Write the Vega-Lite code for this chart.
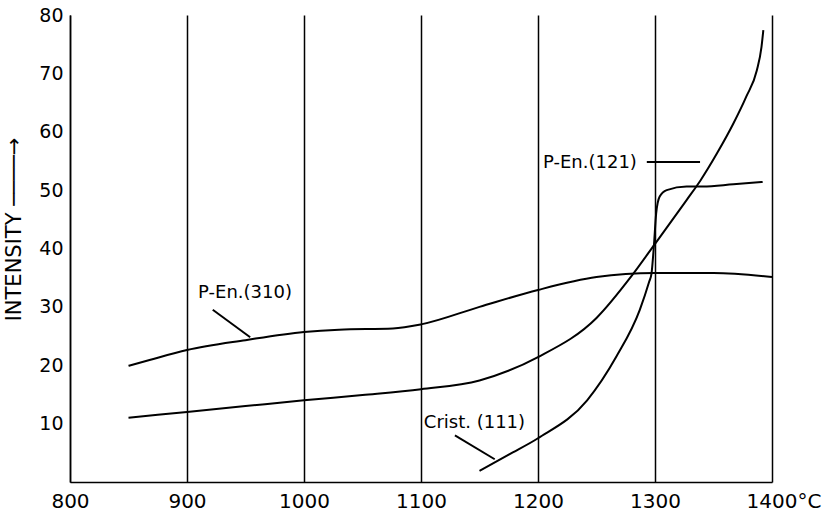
{
  "$schema": "https://vega.github.io/schema/vega-lite/v6.json",
  "width": 702,
  "height": 467,
  "autosize": {"type": "none"},
  "padding": {"left": 70, "top": 15, "right": 60, "bottom": 34},
  "background": "white",
  "config": {
    "view": {"stroke": null},
    "font": "DejaVu Sans"
  },
  "datasets": {
    "curves": [
      {"series": "P-En.(310)", "t": 850, "i": 19.9},
      {"series": "P-En.(310)", "t": 868, "i": 20.9},
      {"series": "P-En.(310)", "t": 900, "i": 22.6},
      {"series": "P-En.(310)", "t": 950, "i": 24.3},
      {"series": "P-En.(310)", "t": 1000, "i": 25.7},
      {"series": "P-En.(310)", "t": 1030, "i": 26.1},
      {"series": "P-En.(310)", "t": 1076, "i": 26.3},
      {"series": "P-En.(310)", "t": 1100, "i": 27.0},
      {"series": "P-En.(310)", "t": 1150, "i": 30.0},
      {"series": "P-En.(310)", "t": 1200, "i": 32.9},
      {"series": "P-En.(310)", "t": 1250, "i": 35.1},
      {"series": "P-En.(310)", "t": 1300, "i": 35.8},
      {"series": "P-En.(310)", "t": 1350, "i": 35.8},
      {"series": "P-En.(310)", "t": 1400, "i": 35.1},
      {"series": "P-En.(121)", "t": 850, "i": 11.0},
      {"series": "P-En.(121)", "t": 900, "i": 12.0},
      {"series": "P-En.(121)", "t": 950, "i": 13.0},
      {"series": "P-En.(121)", "t": 1000, "i": 14.0},
      {"series": "P-En.(121)", "t": 1050, "i": 14.9},
      {"series": "P-En.(121)", "t": 1100, "i": 15.9},
      {"series": "P-En.(121)", "t": 1150, "i": 17.4},
      {"series": "P-En.(121)", "t": 1200, "i": 21.4},
      {"series": "P-En.(121)", "t": 1250, "i": 28.1},
      {"series": "P-En.(121)", "t": 1280, "i": 35.3},
      {"series": "P-En.(121)", "t": 1300, "i": 40.8},
      {"series": "P-En.(121)", "t": 1327, "i": 48.3},
      {"series": "P-En.(121)", "t": 1339, "i": 51.7},
      {"series": "P-En.(121)", "t": 1353, "i": 56.3},
      {"series": "P-En.(121)", "t": 1367, "i": 61.4},
      {"series": "P-En.(121)", "t": 1378, "i": 66.0},
      {"series": "P-En.(121)", "t": 1387, "i": 70.5},
      {"series": "P-En.(121)", "t": 1391, "i": 74.5},
      {"series": "P-En.(121)", "t": 1392.6, "i": 77.4},
      {"series": "Crist.(111)", "t": 1150, "i": 1.9},
      {"series": "Crist.(111)", "t": 1175, "i": 4.7},
      {"series": "Crist.(111)", "t": 1200, "i": 7.5},
      {"series": "Crist.(111)", "t": 1242, "i": 14.0},
      {"series": "Crist.(111)", "t": 1267, "i": 21.5},
      {"series": "Crist.(111)", "t": 1287, "i": 29.5},
      {"series": "Crist.(111)", "t": 1295, "i": 34.3},
      {"series": "Crist.(111)", "t": 1297, "i": 35.7},
      {"series": "Crist.(111)", "t": 1299, "i": 40.3},
      {"series": "Crist.(111)", "t": 1301, "i": 46.0},
      {"series": "Crist.(111)", "t": 1304, "i": 48.9},
      {"series": "Crist.(111)", "t": 1310, "i": 50.0},
      {"series": "Crist.(111)", "t": 1327, "i": 50.6},
      {"series": "Crist.(111)", "t": 1341, "i": 50.6},
      {"series": "Crist.(111)", "t": 1367, "i": 51.0},
      {"series": "Crist.(111)", "t": 1392, "i": 51.4}
    ],
    "leaders": [
      {"series": "P-En.(310)", "t": 922, "i": 29.5, "t2": 954, "i2": 24.8},
      {"series": "P-En.(121)", "t": 1293, "i": 54.8, "t2": 1338.5, "i2": 54.8},
      {"series": "Crist.(111)", "t": 1129, "i": 8.0, "t2": 1163, "i2": 3.9}
    ],
    "labels": [
      {"label": "P-En.(310)", "t": 949.6, "i": 32.4},
      {"label": "P-En.(121)", "t": 1244.4, "i": 54.6},
      {"label": "Crist. (111)", "t": 1145.7, "i": 10.1}
    ]
  },
  "layer": [
    {
      "data": {"name": "curves"},
      "mark": {"type": "line", "interpolate": "monotone", "color": "black", "strokeWidth": 2},
      "encoding": {
        "x": {
          "field": "t", "type": "quantitative",
          "scale": {"domain": [800, 1400], "nice": false, "zero": false},
          "axis": {
            "title": null,
            "values": [800, 900, 1000, 1100, 1200, 1300, 1400],
            "format": "d",
            "grid": true, "gridColor": "black", "gridWidth": 1.5, "gridOpacity": 1,
            "ticks": false,
            "domainColor": "black", "domainWidth": 1.5,
            "labelFont": "DejaVu Sans", "labelFontSize": 20, "labelColor": "black",
            "labelPadding": 9,
            "labelExpr": "datum.value == 1400 ? '1400°C' : datum.label",
            "labelAlign": {"expr": "datum.value == 1400 ? 'left' : 'center'"},
            "labelOffset": {"expr": "datum.value == 1400 ? -26 : 0"},
            "labelFlush": false, "labelOverlap": false
          }
        },
        "y": {
          "field": "i", "type": "quantitative",
          "scale": {"domain": [0, 80], "nice": false},
          "axis": {
            "title": "INTENSITY  ────→",
            "titleFont": "DejaVu Sans", "titleFontSize": 21, "titleFontWeight": "normal", "titleColor": "black",
            "titleAngle": -90, "titleAlign": "center", "titleBaseline": "middle",
            "titleX": -56, "titleY": 214, "titleLimit": 400,
            "values": [10, 20, 30, 40, 50, 60, 70, 80],
            "grid": false, "ticks": false,
            "domainColor": "black", "domainWidth": 1.5,
            "labelFont": "DejaVu Sans", "labelFontSize": 19, "labelColor": "black",
            "labelPadding": 7, "labelFlush": false, "labelOverlap": false
          }
        },
        "detail": {"field": "series"}
      }
    },
    {
      "data": {"name": "leaders"},
      "mark": {"type": "rule", "color": "black", "strokeWidth": 2},
      "encoding": {
        "x": {"field": "t", "type": "quantitative"},
        "y": {"field": "i", "type": "quantitative"},
        "x2": {"field": "t2"},
        "y2": {"field": "i2"}
      }
    },
    {
      "data": {"name": "labels"},
      "mark": {"type": "text", "font": "DejaVu Sans", "fontSize": 18, "color": "black", "align": "center", "baseline": "middle"},
      "encoding": {
        "x": {"field": "t", "type": "quantitative"},
        "y": {"field": "i", "type": "quantitative"},
        "text": {"field": "label"}
      }
    }
  ]
}
